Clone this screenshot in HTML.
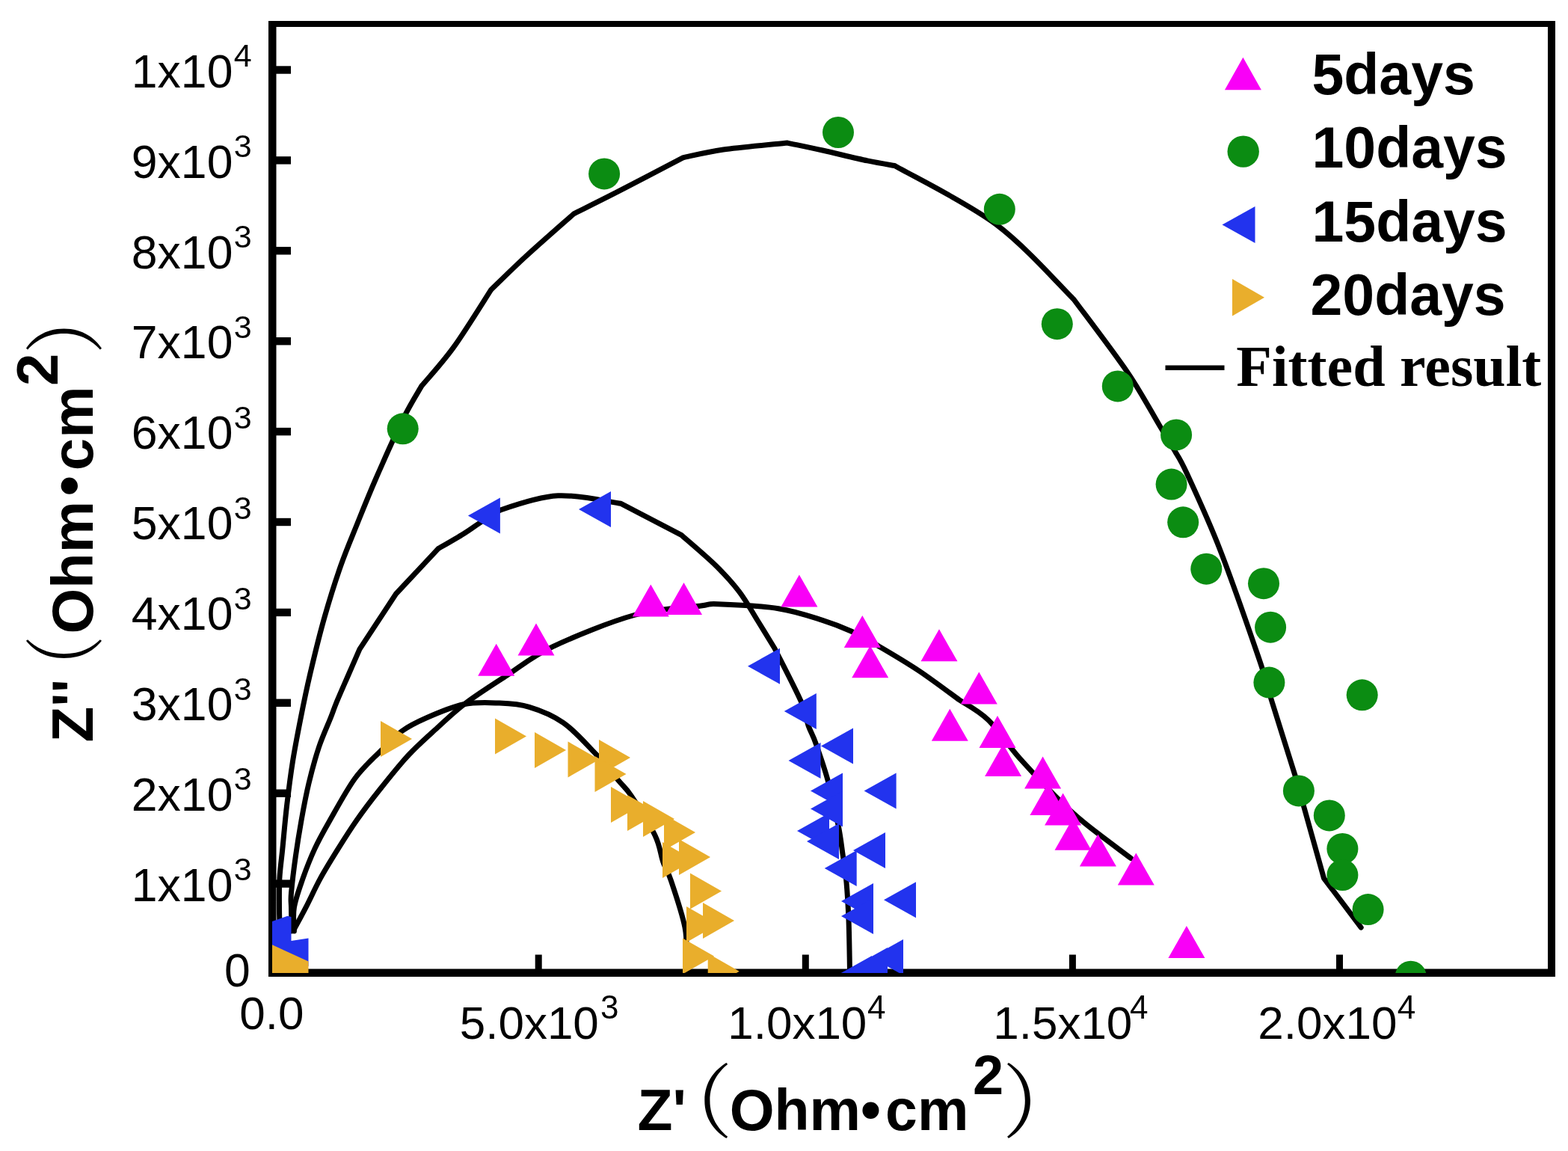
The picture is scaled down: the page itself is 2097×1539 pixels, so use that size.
<!DOCTYPE html><html><head><meta charset="utf-8"><title>Nyquist plot</title><style>html,body{margin:0;padding:0;background:#fff;}svg{display:block;}</style></head><body>
<svg width="2097" height="1539" viewBox="0 0 2097 1539">
<rect x="0" y="0" width="2097" height="1539" fill="#fff"/>
<defs><clipPath id="pc"><rect x="364" y="32" width="1711" height="1269"/></clipPath></defs>
<g fill="#000">
<rect x="359" y="28" width="1721" height="8"/>
<rect x="359" y="1295.5" width="1721" height="10.5"/>
<rect x="359" y="28" width="10.5" height="1278"/>
<rect x="2070" y="28" width="10" height="1278"/>
<rect x="368" y="1176.4" width="21" height="10.4"/>
<rect x="368" y="1055.5" width="21" height="10.4"/>
<rect x="368" y="934.6" width="21" height="10.4"/>
<rect x="368" y="813.7" width="21" height="10.4"/>
<rect x="368" y="692.8" width="21" height="10.4"/>
<rect x="368" y="571.9" width="21" height="10.4"/>
<rect x="368" y="451.0" width="21" height="10.4"/>
<rect x="368" y="330.1" width="21" height="10.4"/>
<rect x="368" y="209.2" width="21" height="10.4"/>
<rect x="368" y="88.3" width="21" height="10.4"/>
<rect x="715.7" y="1276.5" width="9" height="20"/>
<rect x="1072.8" y="1276.5" width="9" height="20"/>
<rect x="1429.9" y="1276.5" width="9" height="20"/>
<rect x="1787.0" y="1276.5" width="9" height="20"/>
</g>
<g font-family="'Liberation Sans', Arial, sans-serif" fill="#000">
<text x="311.4" y="1204.8" font-size="62.5" text-anchor="end">1x10</text>
<text x="336.6" y="1177.3" font-size="43" text-anchor="end">3</text>
<text x="311.4" y="1083.9" font-size="62.5" text-anchor="end">2x10</text>
<text x="336.6" y="1056.4" font-size="43" text-anchor="end">3</text>
<text x="311.4" y="963.0" font-size="62.5" text-anchor="end">3x10</text>
<text x="336.6" y="935.5" font-size="43" text-anchor="end">3</text>
<text x="311.4" y="842.1" font-size="62.5" text-anchor="end">4x10</text>
<text x="336.6" y="814.6" font-size="43" text-anchor="end">3</text>
<text x="311.4" y="721.2" font-size="62.5" text-anchor="end">5x10</text>
<text x="336.6" y="693.7" font-size="43" text-anchor="end">3</text>
<text x="311.4" y="600.3" font-size="62.5" text-anchor="end">6x10</text>
<text x="336.6" y="572.8" font-size="43" text-anchor="end">3</text>
<text x="311.4" y="479.4" font-size="62.5" text-anchor="end">7x10</text>
<text x="336.6" y="451.9" font-size="43" text-anchor="end">3</text>
<text x="311.4" y="358.5" font-size="62.5" text-anchor="end">8x10</text>
<text x="336.6" y="331.0" font-size="43" text-anchor="end">3</text>
<text x="311.4" y="237.6" font-size="62.5" text-anchor="end">9x10</text>
<text x="336.6" y="210.1" font-size="43" text-anchor="end">3</text>
<text x="311.4" y="116.7" font-size="62.5" text-anchor="end">1x10</text>
<text x="336.6" y="89.2" font-size="43" text-anchor="end">4</text>
<text x="334.7" y="1319" font-size="62.5" text-anchor="end">0</text>
<text x="320.3" y="1376" font-size="62">0.0</text>
<text x="614.7" y="1388.7" font-size="62">5.0x10</text>
<text x="803.0" y="1361.5" font-size="44" text-anchor="start">3</text>
<text x="973.2" y="1388.7" font-size="62">1.0x10</text>
<text x="1160.0" y="1361.5" font-size="44" text-anchor="start">4</text>
<text x="1328.2" y="1388.7" font-size="62">1.5x10</text>
<text x="1535.6" y="1361.5" font-size="44" text-anchor="end">4</text>
<text x="1682.3" y="1388.7" font-size="62">2.0x10</text>
<text x="1893.2" y="1361.5" font-size="44" text-anchor="end">4</text>
</g>
<g font-family="'Liberation Sans', Arial, sans-serif" font-weight="bold" fill="#000">
<text x="852.4" y="1511" font-size="77">Z'</text>
<text x="872" y="1512" font-size="108" font-weight="normal" font-family="'Noto Serif CJK SC', 'Noto Serif CJK JP', serif">（</text>
<text x="975.7" y="1511" font-size="77">Ohm•</text>
<text x="1184.1" y="1511" font-size="77">cm</text>
<text x="1301" y="1462.5" font-size="74">2</text>
<text x="1340.3" y="1512" font-size="108" font-weight="normal" font-family="'Noto Serif CJK SC', 'Noto Serif CJK JP', serif">）</text>
<g transform="translate(123.5,0) rotate(-90)">
<text x="-992.6" y="0" font-size="78">Z''</text>
<text transform="translate(-936.2,0) scale(0.8,1)" x="0" y="2" font-size="108" font-weight="normal" font-family="'Noto Serif CJK SC', 'Noto Serif CJK JP', serif">（</text>
<text x="-847.6" y="0" font-size="78">Ohm</text>
<text x="-663.3" y="-5" font-size="78">•</text>
<text x="-629.2" y="0" font-size="78">cm</text>
<text x="-516" y="-46.3" font-size="78">2</text>
<text transform="translate(-473.4,0) scale(0.9,1)" x="0" y="2" font-size="108" font-weight="normal" font-family="'Noto Serif CJK SC', 'Noto Serif CJK JP', serif">）</text>
</g>
</g>
<g clip-path="url(#pc)" fill="none" stroke="#000" stroke-width="7" stroke-linejoin="round" stroke-linecap="round">
<path d="M374.0,1235.0 C373.9,1231.3 373.5,1223.1 373.5,1213.0 C373.5,1202.9 373.2,1187.3 373.9,1174.4 C374.6,1161.5 376.2,1151.6 377.8,1135.4 C379.4,1119.2 381.3,1096.5 383.6,1077.0 C385.9,1057.5 388.3,1038.0 391.4,1018.5 C394.5,999.0 398.3,979.8 402.2,960.0 C406.1,940.2 409.7,922.5 415.0,900.0 C420.3,877.5 427.2,849.0 434.0,825.2 C440.8,801.4 448.2,777.9 455.5,757.0 C462.8,736.1 470.0,719.6 477.9,700.0 C485.8,680.4 492.8,662.7 502.9,639.5 C513.0,616.3 528.6,581.4 538.7,560.9 C548.8,540.4 559.5,523.7 563.7,516.3 C570.9,507.6 591.1,485.8 606.6,464.4 C622.1,442.9 648.3,400.4 656.6,387.6 C664.3,380.2 684.5,360.0 703.0,343.0 C721.5,326.0 756.7,295.3 767.4,285.8 C776.9,281.0 800.1,269.7 824.5,257.2 C848.9,244.7 898.9,218.4 913.8,210.7 C922.7,208.9 944.2,203.3 967.4,200.0 C990.6,196.7 1038.9,192.6 1053.2,191.1 C1061.0,192.8 1082.2,197.0 1100.0,201.0 C1117.8,205.0 1143.9,211.5 1160.0,214.9 C1176.1,218.3 1190.4,220.4 1196.5,221.5 C1219.1,234.6 1292.4,270.3 1332.3,300.1 C1372.2,329.9 1418.7,383.5 1436.0,400.2 C1448.0,416.5 1489.0,470.0 1508.0,498.0 C1527.0,526.0 1539.7,550.5 1550.3,568.2 C1560.9,585.9 1568.2,598.0 1571.8,604.0 C1574.4,608.9 1577.5,611.5 1587.4,633.3 C1597.4,655.1 1615.5,693.6 1631.5,734.7 C1647.5,775.8 1672.0,846.5 1683.5,880.0 C1695.0,913.5 1692.2,909.6 1700.4,936.0 C1708.6,962.4 1727.2,1021.3 1732.5,1038.4 C1738.8,1061.1 1764.2,1151.7 1770.5,1174.3 C1778.8,1185.3 1811.9,1229.1 1820.2,1240.1"/>
<path d="M390.0,1245.0 C389.9,1239.7 389.6,1221.9 389.5,1213.4 C389.4,1204.9 388.5,1205.4 389.5,1194.0 C390.5,1182.6 393.0,1161.5 395.3,1145.2 C397.6,1129.0 400.2,1112.8 403.1,1096.5 C406.0,1080.2 409.0,1064.0 412.9,1047.7 C416.8,1031.5 421.6,1013.6 426.5,999.0 C431.4,984.4 438.2,969.8 442.1,960.0 C446.0,950.2 445.6,950.0 449.7,940.0 C453.8,930.0 461.8,912.0 467.0,900.0 C472.2,888.0 478.6,873.4 480.9,868.1 C489.0,855.8 521.5,806.4 529.6,794.0 C539.0,783.9 576.7,743.7 586.1,733.6 C591.8,730.3 610.9,719.4 620.0,713.7 C629.1,708.0 632.8,704.9 641.0,699.6 C649.2,694.3 651.6,688.2 669.1,682.1 C686.6,676.0 719.4,664.3 746.3,662.8 C773.2,661.3 816.5,671.5 830.5,673.3 C844.0,680.3 897.8,708.4 911.2,715.4 C918.8,722.1 943.9,743.2 956.8,755.8 C969.7,768.4 979.0,778.6 988.4,790.9 C997.8,803.2 1005.1,816.8 1013.0,829.5 C1020.9,842.2 1032.2,860.8 1036.0,867.0 C1041.9,878.8 1063.7,920.5 1071.2,937.7 C1078.7,954.9 1077.7,960.6 1081.0,970.0 C1084.3,979.4 1086.7,981.8 1091.0,994.0 C1095.3,1006.2 1102.0,1024.8 1107.0,1043.0 C1112.0,1061.2 1117.7,1086.5 1121.0,1103.0 C1124.3,1119.5 1125.2,1129.2 1127.0,1142.0 C1128.8,1154.8 1130.7,1165.3 1132.0,1180.0 C1133.3,1194.7 1134.2,1210.3 1135.0,1230.0 C1135.8,1249.7 1136.2,1286.7 1136.5,1298.0"/>
<path d="M393.4,1242.6 C396.0,1237.7 403.1,1224.8 409.0,1213.4 C414.9,1202.0 421.4,1187.4 428.5,1174.4 C435.6,1161.4 443.8,1148.4 451.9,1135.4 C460.0,1122.4 468.1,1109.5 477.2,1096.5 C486.3,1083.5 495.0,1071.9 506.5,1057.5 C518.0,1043.1 532.9,1024.1 546.0,1010.0 C559.1,995.9 572.2,984.7 585.0,973.0 C597.8,961.3 607.5,951.7 623.0,940.0 C638.5,928.3 658.6,915.6 678.0,903.0 C697.4,890.4 710.9,878.0 739.3,864.6 C767.6,851.2 815.4,831.6 848.1,822.5 C880.9,813.4 917.1,812.7 935.8,810.2 C954.5,807.7 942.9,807.1 960.4,807.7 C977.9,808.3 1017.7,810.1 1041.0,813.7 C1064.3,817.3 1083.7,824.2 1100.0,829.3 C1116.3,834.4 1126.5,838.6 1138.9,844.3 C1151.4,850.0 1159.8,855.0 1174.7,863.7 C1189.6,872.4 1210.6,884.7 1228.5,896.6 C1246.4,908.5 1273.3,928.9 1282.3,935.4 C1288.8,939.9 1307.8,949.3 1321.2,962.3 C1334.7,975.2 1348.1,996.2 1363.0,1013.1 C1377.9,1030.0 1396.3,1049.5 1410.8,1063.9 C1425.2,1078.4 1432.8,1085.8 1449.7,1099.8 C1466.6,1113.8 1502.0,1139.6 1512.4,1147.6"/>
<path d="M393.4,1245.0 C393.4,1239.7 391.4,1225.2 393.4,1213.4 C395.3,1201.6 400.6,1187.4 405.1,1174.4 C409.7,1161.4 414.9,1148.0 420.7,1135.4 C426.5,1122.8 431.0,1114.7 440.0,1099.0 C449.0,1083.3 463.2,1056.7 474.6,1041.0 C486.0,1025.3 497.9,1015.4 508.4,1004.8 C518.9,994.2 527.3,985.0 537.6,977.5 C547.9,970.0 556.3,966.0 570.0,960.0 C583.7,954.0 604.1,945.1 620.0,941.8 C635.9,938.5 651.0,939.4 665.6,940.0 C680.2,940.6 693.1,940.9 707.7,945.3 C722.3,949.7 738.7,956.1 753.3,966.3 C767.9,976.5 783.1,993.8 795.4,1006.7 C807.7,1019.6 818.8,1033.8 827.0,1043.5 C835.2,1053.2 836.4,1052.3 844.6,1064.6 C852.8,1076.9 869.1,1102.6 876.1,1117.2 C883.1,1131.8 883.2,1142.4 886.7,1152.3 C890.2,1162.2 892.3,1162.2 897.2,1176.8 C902.1,1191.4 912.5,1222.0 916.0,1240.0 C919.5,1258.0 917.7,1277.5 918.0,1285.0"/>
</g>
<g clip-path="url(#pc)">
<g fill="#F900F7"><polygon points="639.2,903.8 688.2,903.8 663.7,860.8"/><polygon points="692.5,876.5 741.5,876.5 717.0,833.5"/><polygon points="845.8,824.5 894.8,824.5 870.3,781.5"/><polygon points="890.0,822.0 939.0,822.0 914.5,779.0"/><polygon points="1044.4,811.5 1093.4,811.5 1068.9,768.5"/><polygon points="1128.8,866.1 1177.8,866.1 1153.3,823.1"/><polygon points="1139.2,906.3 1188.2,906.3 1163.7,863.3"/><polygon points="1231.5,884.3 1280.5,884.3 1256.0,841.3"/><polygon points="1284.8,941.4 1333.8,941.4 1309.3,898.4"/><polygon points="1245.8,990.8 1294.8,990.8 1270.3,947.8"/><polygon points="1309.5,999.9 1358.5,999.9 1334.0,956.9"/><polygon points="1317.1,1038.0 1366.1,1038.0 1341.6,995.0"/><polygon points="1370.1,1054.6 1419.1,1054.6 1394.6,1011.6"/><polygon points="1377.4,1090.0 1426.4,1090.0 1401.9,1047.0"/><polygon points="1397.1,1103.4 1446.1,1103.4 1421.6,1060.4"/><polygon points="1410.5,1136.7 1459.5,1136.7 1435.0,1093.7"/><polygon points="1443.9,1158.5 1492.9,1158.5 1468.4,1115.5"/><polygon points="1494.8,1183.5 1543.8,1183.5 1519.3,1140.5"/><polygon points="1562.4,1281.0 1611.4,1281.0 1586.9,1238.0"/></g>
<g fill="#0B8C12"><circle cx="538.7" cy="573.3" r="21"/><circle cx="808.1" cy="232.4" r="21"/><circle cx="1121" cy="177" r="21"/><circle cx="1336.8" cy="279.8" r="21"/><circle cx="1413.8" cy="433.2" r="21"/><circle cx="1494.8" cy="516.4" r="21"/><circle cx="1573.1" cy="581.4" r="21"/><circle cx="1566.6" cy="647.6" r="21"/><circle cx="1582.2" cy="698.3" r="21"/><circle cx="1613.3" cy="760.7" r="21"/><circle cx="1690" cy="780.2" r="21"/><circle cx="1699.1" cy="838.7" r="21"/><circle cx="1697.4" cy="912.6" r="21"/><circle cx="1821.7" cy="929.3" r="21"/><circle cx="1736.9" cy="1057.4" r="21"/><circle cx="1777.8" cy="1090.4" r="21"/><circle cx="1795.4" cy="1134.9" r="21"/><circle cx="1795.4" cy="1170" r="21"/><circle cx="1829.6" cy="1216.1" r="21"/><circle cx="1886.7" cy="1305.7" r="21"/></g>
<g fill="#2233EE"><polygon points="668.9,665.4 668.9,713.4 625.9,689.4"/><polygon points="817.0,657.0 817.0,705.0 774.0,681.0"/><polygon points="1043.0,866.8 1043.0,914.8 1000.0,890.8"/><polygon points="1091.8,927.0 1091.8,975.0 1048.8,951.0"/><polygon points="1097.5,993.0 1097.5,1041.0 1054.5,1017.0"/><polygon points="1141.0,973.6 1141.0,1021.6 1098.0,997.6"/><polygon points="1127.0,1033.5 1127.0,1081.5 1084.0,1057.5"/><polygon points="1198.6,1033.5 1198.6,1081.5 1155.6,1057.5"/><polygon points="1127.0,1057.6 1127.0,1105.6 1084.0,1081.6"/><polygon points="1109.0,1087.0 1109.0,1135.0 1066.0,1111.0"/><polygon points="1122.0,1101.0 1122.0,1149.0 1079.0,1125.0"/><polygon points="1184.0,1113.0 1184.0,1161.0 1141.0,1137.0"/><polygon points="1145.7,1137.0 1145.7,1185.0 1102.7,1161.0"/><polygon points="1168.0,1181.0 1168.0,1229.0 1125.0,1205.0"/><polygon points="1168.0,1201.0 1168.0,1249.0 1125.0,1225.0"/><polygon points="1225.0,1179.3 1225.0,1227.3 1182.0,1203.3"/><polygon points="1208.0,1256.0 1208.0,1304.0 1165.0,1280.0"/><polygon points="1187.0,1267.0 1187.0,1315.0 1144.0,1291.0"/><polygon points="1166.0,1278.0 1166.0,1326.0 1123.0,1302.0"/><polygon points="364,1232 384.5,1224.7 389.5,1226 389.5,1258 412.5,1254.5 412.5,1292 364,1272"/></g>
<g fill="#E9AE2C"><polygon points="509.0,964.0 509.0,1012.0 551.0,988.0"/><polygon points="662.0,960.5 662.0,1008.5 704.0,984.5"/><polygon points="715.0,979.0 715.0,1027.0 757.0,1003.0"/><polygon points="759.5,991.5 759.5,1039.5 801.5,1015.5"/><polygon points="801.0,989.0 801.0,1037.0 843.0,1013.0"/><polygon points="795.5,1011.0 795.5,1059.0 837.5,1035.0"/><polygon points="817.0,1052.0 817.0,1100.0 859.0,1076.0"/><polygon points="839.0,1063.0 839.0,1111.0 881.0,1087.0"/><polygon points="860.0,1071.0 860.0,1119.0 902.0,1095.0"/><polygon points="888.0,1089.0 888.0,1137.0 930.0,1113.0"/><polygon points="886.0,1126.0 886.0,1174.0 928.0,1150.0"/><polygon points="908.0,1122.0 908.0,1170.0 950.0,1146.0"/><polygon points="923.0,1167.5 923.0,1215.5 965.0,1191.5"/><polygon points="918.0,1212.0 918.0,1260.0 960.0,1236.0"/><polygon points="940.0,1207.0 940.0,1255.0 982.0,1231.0"/><polygon points="913.0,1254.5 913.0,1302.5 955.0,1278.5"/><polygon points="946.7,1274.8 946.7,1322.8 988.7,1298.8"/><polygon points="364,1263.3 412.5,1285.6 412.5,1301 364,1301"/></g>
</g>
<polygon fill="#F900F7" points="1637.9,120.3 1686.9,120.3 1662.4,76.8"/>
<circle fill="#0B8C12" cx="1662.7" cy="202.6" r="21.2"/>
<polygon fill="#2233EE" points="1678.5,276.1 1678.5,325.1 1634.5,300.6"/>
<polygon fill="#E9AE2C" points="1648.0,373.1 1648.0,422.6 1691.0,397.8"/>
<rect x="1558.5" y="488.5" width="79" height="6.5" fill="#000"/>
<g font-family="'Liberation Sans', Arial, sans-serif" font-weight="bold" font-size="77" fill="#000">
<text x="1754.5" y="125.5">5days</text>
<text x="1754.5" y="223.8">10days</text>
<text x="1754.5" y="322.5">15days</text>
<text x="1752.5" y="421">20days</text>
</g>
<text x="1653.3" y="516" font-family="'Liberation Serif', 'Times New Roman', serif" font-weight="bold" font-size="78" fill="#000">Fitted result</text>
</svg></body></html>
